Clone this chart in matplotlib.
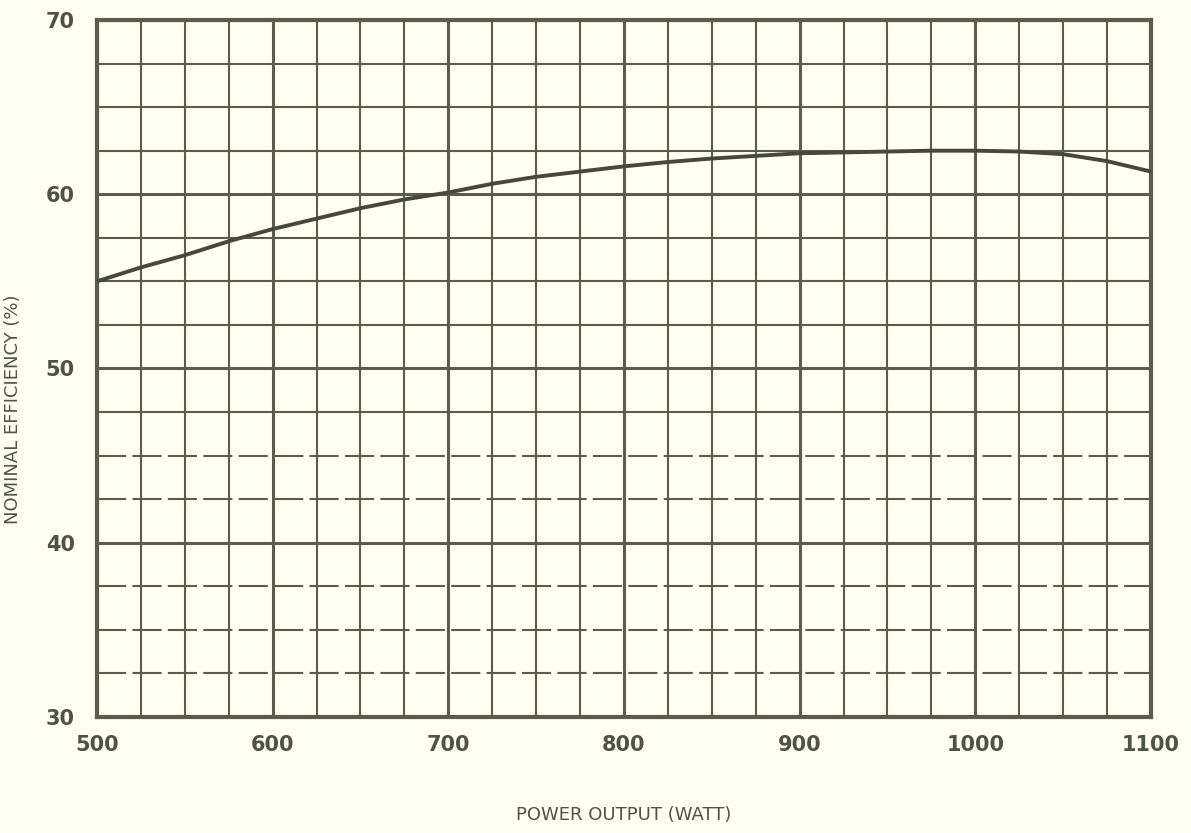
#Nominal efficiency vs power output, redrawn from a scanned chart
import matplotlib
matplotlib.use("Agg")
import matplotlib.pyplot as plt
from matplotlib import font_manager
import numpy as np

power = [500, 525, 550, 575, 600, 625, 650, 675, 700, 725, 750, 775, 800,
         825, 850, 875, 900, 925, 950, 975, 1000, 1025, 1050, 1075, 1100]
efficiency = [55.0, 55.8, 56.5, 57.3, 58.0, 58.6, 59.2, 59.7, 60.1, 60.6, 61.0, 61.3, 61.6,
              61.85, 62.05, 62.2, 62.35, 62.4, 62.45, 62.5, 62.5, 62.45, 62.3, 61.9, 61.3]

x_ticks = [500, 600, 700, 800, 900, 1000, 1100]
y_ticks = [30, 40, 50, 60, 70]
dashed_rows = [32.5, 35, 37.5, 42.5, 45]

bg = "#fefff0"
ink = "#5a5d4c"
txt = "#4f5344"

#narrow face if there is one, else DejaVu
names = {f.name for f in font_manager.fontManager.ttflist}
fam = "Liberation Sans Narrow" if "Liberation Sans Narrow" in names else "DejaVu Sans"

fig = plt.figure(figsize=(11.91, 8.33), dpi=100, facecolor=bg)
ax = fig.add_axes([0.0814, 0.1393, 0.885, 0.8367])
ax.set_facecolor(bg)
ax.set_xlim(500, 1100)
ax.set_ylim(30, 70)

#grid by hand so some rows can be dashed like the scan
for xv in np.arange(500, 1101, 25):
    major = xv % 100 == 0
    ax.axvline(xv, color=ink, lw=2.2 if major else 1.5, zorder=1)
for yv in np.arange(30, 70.1, 2.5):
    major = yv % 10 == 0
    ls = (0, (14, 3)) if yv in dashed_rows else "-"
    ax.axhline(yv, color=ink, lw=2.2 if major else 1.5, ls=ls, zorder=1)

#curve
ax.plot(power, efficiency, color="#45483a", lw=2.8, zorder=3)

for s in ax.spines.values():
    s.set_color(ink)
    s.set_linewidth(3)

ax.set_xticks(x_ticks)
ax.set_yticks(y_ticks)
ax.set_xticklabels([str(v) for v in x_ticks])
ax.set_yticklabels([str(v) for v in y_ticks])
ax.tick_params(length=0, labelcolor=txt, labelsize=15)
ax.tick_params(axis="x", pad=13)
ax.tick_params(axis="y", pad=16)
for lab in ax.get_xticklabels() + ax.get_yticklabels():
    lab.set_fontweight("bold")
    lab.set_family(fam)

ax.set_xlabel("POWER OUTPUT (WATT)", color=txt, fontsize=13, family=fam)
ax.set_ylabel("NOMINAL EFFICIENCY (%)", color=txt, fontsize=13, family=fam)
ax.xaxis.set_label_coords(0.5, -0.128)
ax.yaxis.set_label_coords(-0.071, 0.442)

fig.savefig("out.png", dpi=100, facecolor=bg)
